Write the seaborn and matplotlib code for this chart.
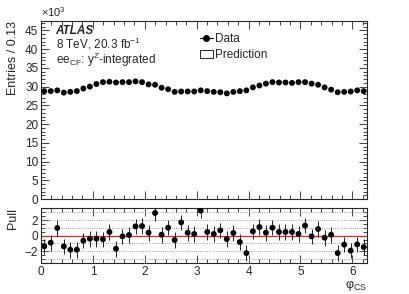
import numpy as np
import pandas as pd
import matplotlib
matplotlib.use('Agg')
import matplotlib.pyplot as plt
from matplotlib.lines import Line2D
from matplotlib.patches import Patch
from matplotlib.ticker import MultipleLocator
import seaborn as sns

# 50 bins in phi_CS from 0 to 2pi
n_bins = 50
entries_k = [28.8, 28.8, 29.0, 28.4, 28.6, 28.8, 29.5, 30.0, 30.7, 31.2,
             31.3, 31.1, 31.2, 31.2, 31.4, 31.2, 30.6, 30.5, 29.7, 29.3,
             28.6, 28.7, 28.7, 28.7, 29.0, 28.8, 28.6, 28.5, 28.2, 28.6,
             28.8, 29.0, 29.8, 30.3, 30.8, 31.2, 31.1, 31.1, 31.0, 31.2,
             31.2, 30.8, 30.5, 29.8, 29.2, 28.5, 28.6, 28.7, 29.0, 28.8]
pulls = [-1.37, -0.9, 0.98, -1.37, -1.8, -1.8, -0.64, -0.39, -0.39, -0.47,
         0.47, -1.67, -0.09, 0.08, 1.19, 1.23, 0.38, 2.9, 0.12, 1.02,
         -0.56, 1.7, 0.38, 0.21, 3.2, 0.47, 0.21, 0.68, -0.43, 0.34,
         -0.82, -2.23, 0.55, 1.1, 0.38, 1.02, 0.47, 0.47, 0.47, 0.21,
         1.28, -0.09, 0.85, -0.26, 0.12, -2.23, -1.15, -1.92, -1.12, -1.46]
pull_err = 1.0
grid_levels = [-3, -2, -1, 1, 2, 3]
x_ticks = [0, 1, 2, 3, 4, 5, 6]

edges = np.linspace(0, 2 * np.pi, n_bins + 1)
centers = 0.5 * (edges[:-1] + edges[1:])
df = pd.DataFrame({'phi': centers, 'entries': entries_k, 'pull': pulls})

sns.set_style('ticks')
plt.rcParams['font.family'] = ['Liberation Sans', 'DejaVu Sans']
plt.rcParams['mathtext.fontset'] = 'custom'
plt.rcParams['mathtext.rm'] = 'Liberation Sans'
plt.rcParams['mathtext.it'] = 'Liberation Sans:italic'

fig = plt.figure(figsize=(4.09, 2.94), dpi=100)
ax = fig.add_axes([0.1002, 0.3231, 0.7971, 0.6065])
axp = fig.add_axes([0.1002, 0.1054, 0.7971, 0.1861])

# main panel
sns.scatterplot(data=df, x='phi', y='entries', ax=ax, color='black', s=18,
                edgecolor='none', legend=False, zorder=3)
ax.set_xlim(0, 2 * np.pi)
ax.set_ylim(0, 47.6)
ax.yaxis.set_major_locator(MultipleLocator(5))
ax.yaxis.set_minor_locator(MultipleLocator(1))
ax.xaxis.set_major_locator(MultipleLocator(1))
ax.xaxis.set_minor_locator(MultipleLocator(0.2))
ax.set_xticklabels([])
ax.set_xlabel('')
ax.set_ylabel('Entries / 0.13', fontsize=9, loc='top', labelpad=4)
ax.text(0.0, 1.01, r'$\times10^{3}$', transform=ax.transAxes, fontsize=8,
        ha='left', va='bottom')

ax.text(0.045, 0.94, 'ATLAS', transform=ax.transAxes, fontsize=8.5,
        fontweight='bold', fontstyle='italic', va='center')
ax.text(0.045, 0.868, r'8 TeV, 20.3 fb$^{-1}$', transform=ax.transAxes,
        fontsize=8.5, va='center')
ax.text(0.045, 0.778, r'ee$_{\rm CF}$: y$^{\rm Z}$-integrated',
        transform=ax.transAxes, fontsize=8.5, va='center')

handles = [Line2D([0], [0], color='black', marker='o', markersize=4, lw=0.8),
           Patch(facecolor='white', edgecolor='black', linewidth=0.6)]
ax.legend(handles, ['Data', 'Prediction'], loc='upper left',
          bbox_to_anchor=(0.455, 0.99), frameon=False, fontsize=8.5,
          handlelength=1.1, handletextpad=0.2, labelspacing=0.35)

# pull panel
for lv in grid_levels:
    axp.axhline(lv, color='gray', lw=0.6, ls=':', zorder=1)
axp.axhline(0, color='#d62728', lw=0.9, zorder=2)
axp.vlines(df['phi'], df['pull'] - pull_err, df['pull'] + pull_err,
           color='black', lw=0.6, zorder=3)
sns.scatterplot(data=df, x='phi', y='pull', ax=axp, color='black', s=18,
                edgecolor='none', legend=False, zorder=4)
axp.set_xlim(0, 2 * np.pi)
axp.set_ylim(-3.5, 3.5)
axp.set_xticks(x_ticks)
axp.xaxis.set_minor_locator(MultipleLocator(0.2))
axp.yaxis.set_major_locator(MultipleLocator(2))
axp.yaxis.set_minor_locator(MultipleLocator(0.5))
axp.set_ylabel('Pull', fontsize=9, loc='top', labelpad=4)
axp.set_xlabel('')
fig.text(0.897, 1 - 286 / 294, r'φ$_{\rm CS}$', fontsize=9,
         ha='right', va='center')

for a in (ax, axp):
    for sp in a.spines.values():
        sp.set_visible(True)
        sp.set_linewidth(0.8)
    a.tick_params(which='both', direction='in', top=True, right=True,
                  labelsize=8.5, width=0.6, pad=2)
    a.tick_params(which='major', length=6)
    a.tick_params(which='minor', length=3)

fig.savefig('out.png', dpi=100)
